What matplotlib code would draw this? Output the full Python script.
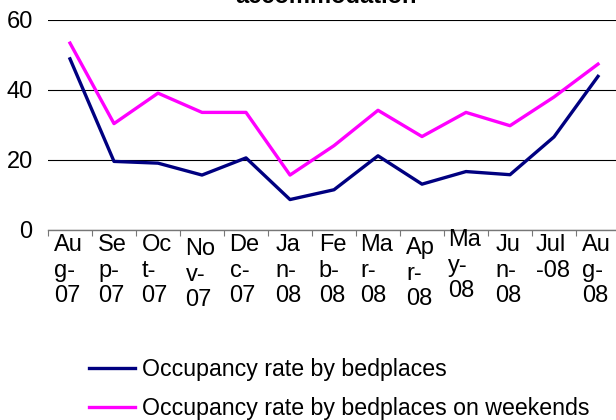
import numpy as np
import matplotlib
matplotlib.use("Agg")
import matplotlib.pyplot as plt

plt.rcParams['font.family'] = ['Liberation Sans', 'DejaVu Sans']

months = ["Aug-07", "Sep-07", "Oct-07", "Nov-07", "Dec-07", "Jan-08", "Feb-08",
          "Mar-08", "Apr-08", "May-08", "Jun-08", "Jul-08", "Aug-08"]
# how the category labels got wrapped in the original
wrapped = ["Au\ng-\n07", "Se\np-\n07", "Oc\nt-\n07", "No\nv-\n07", "De\nc-\n07",
           "Ja\nn-\n08", "Fe\nb-\n08", "Ma\nr-\n08", "Ap\nr-\n08", "Ma\ny-\n08",
           "Ju\nn-\n08", "Jul\n-08", "Au\ng-\n08"]
bedplaces = [48.9, 19.6, 19.1, 15.7, 20.6, 8.7, 11.5, 21.2, 13.1, 16.7, 15.8, 26.6, 43.9]
weekends = [53.4, 30.4, 39.1, 33.6, 33.6, 15.7, 24.1, 34.2, 26.7, 33.6, 29.8, 38.0, 47.4]

fs = 17

fig = plt.figure(figsize=(6.16, 4.2), dpi=100)
ax = fig.add_axes([48/616, 190/420, 572/616, 210/420])

x = np.arange(len(months))
ax.plot(x, bedplaces, color='#000080', lw=2.4, label="Occupancy rate by bedplaces")
ax.plot(x, weekends, color='#FF00FF', lw=2.4, label="Occupancy rate by bedplaces on weekends")

ax.set_xlim(-0.5, len(months) - 0.5)
ax.set_ylim(0, 60)
ax.set_yticks([0, 20, 40, 60])
ax.yaxis.grid(True, color='black', lw=0.8)
ax.set_axisbelow(True)
ax.tick_params(axis='y', length=0, pad=11, labelsize=fs)

for s in ['top', 'right', 'left']:
    ax.spines[s].set_visible(False)
ax.spines['bottom'].set_color('#777777')
ax.spines['bottom'].set_linewidth(1.0)

ax.set_xticks(np.arange(len(months) + 1) - 0.5)
ax.set_xticklabels([])
ax.tick_params(axis='x', direction='out', length=4, color='#777777', width=0.8)

# the odd vertical shifts of some labels (pixels)
shift = {3: -4, 8: -3, 9: 5}
for i, lab in enumerate(wrapped):
    ax.annotate(lab, xy=(i, 0), xycoords=('data', 'axes fraction'),
                xytext=(-1, -3 + shift.get(i, 0) * 0.72), textcoords='offset points',
                ha='center', va='top', multialignment='left',
                fontsize=fs, linespacing=1.2)

fig.text(326/616, 1 - 3/420, "accommodation", ha='center', va='baseline',
         fontsize=17, fontweight='bold')

fig.legend(loc='center left', bbox_to_anchor=(89/616, 1 - 389/420),
           frameon=False, fontsize=16.7, handlelength=2.0, handletextpad=0.3,
           labelspacing=0.72, borderpad=0, borderaxespad=0)

fig.savefig("out.png", dpi=100)
